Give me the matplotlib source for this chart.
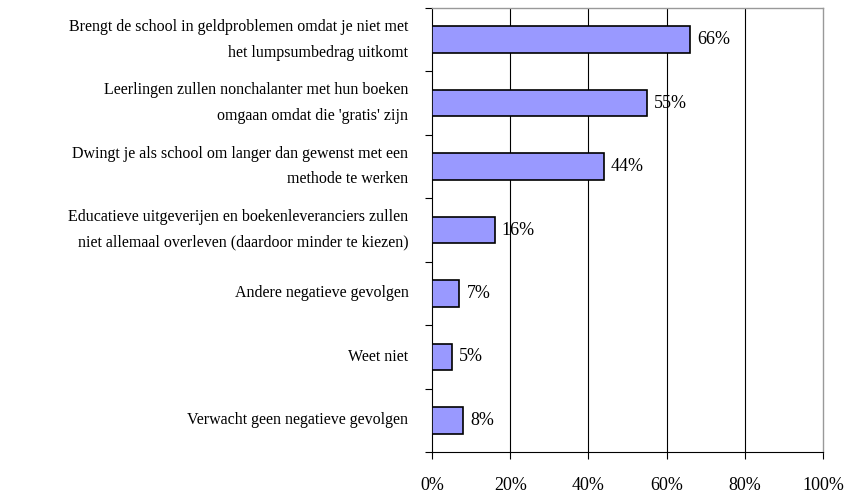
import matplotlib
matplotlib.use("Agg")
import matplotlib.pyplot as plt
import numpy as np

categories = [
    "Brengt de school in geldproblemen omdat je niet met\nhet lumpsumbedrag uitkomt",
    "Leerlingen zullen nonchalanter met hun boeken\nomgaan omdat die 'gratis' zijn",
    "Dwingt je als school om langer dan gewenst met een\nmethode te werken",
    "Educatieve uitgeverijen en boekenleveranciers zullen\nniet allemaal overleven (daardoor minder te kiezen)",
    "Andere negatieve gevolgen",
    "Weet niet",
    "Verwacht geen negatieve gevolgen",
]
values = [66, 55, 44, 16, 7, 5, 8]
xticks = [0, 20, 40, 60, 80, 100]
xticklabels = ["0%", "20%", "40%", "60%", "80%", "100%"]

plt.rcParams['font.family'] = ['Liberation Serif', 'DejaVu Serif']

fig = plt.figure(figsize=(8.51, 4.98), dpi=100)
ax = fig.add_axes([432/851, 46/498, (823-432)/851, (452-8)/498])

n = len(categories)
y = np.arange(n)
ax.barh(y, values, height=0.42, color="#9999FF", edgecolor="black", linewidth=1.2, zorder=3)
for yi, v in zip(y, values):
    ax.text(v + 1.8, yi, f"{v}%", va="center", ha="left", fontsize=13, zorder=4)

ax.set_xlim(0, 100)
ax.set_ylim(n - 0.5, -0.5)
ax.set_xticks(xticks)
ax.set_xticklabels(xticklabels, fontsize=13)
ax.tick_params(axis='x', direction='out', length=5, width=0.8, pad=13)

ax.set_yticks(np.arange(n + 1) - 0.5)
ax.set_yticklabels([])
ax.tick_params(axis='y', which='major', direction='out', length=5, width=0.8)
ax.set_yticks(y, minor=True)
ax.set_yticklabels(categories, minor=True, fontsize=11.5, linespacing=1.8)
ax.tick_params(axis='y', which='minor', length=0, pad=17)
for lbl in ax.get_yticklabels(minor=True):
    lbl.set_horizontalalignment('right')
    lbl.set_verticalalignment('center')

for gx in [20, 40, 60, 80]:
    ax.axvline(gx, color="black", linewidth=0.8, zorder=1)

ax.spines['left'].set_color('black')
ax.spines['bottom'].set_color('black')
ax.spines['left'].set_linewidth(0.8)
ax.spines['bottom'].set_linewidth(0.8)
ax.spines['top'].set_color('#999999')
ax.spines['right'].set_color('#999999')
ax.spines['top'].set_linewidth(1.0)
ax.spines['right'].set_linewidth(1.0)

fig.savefig("out.png", dpi=100)
